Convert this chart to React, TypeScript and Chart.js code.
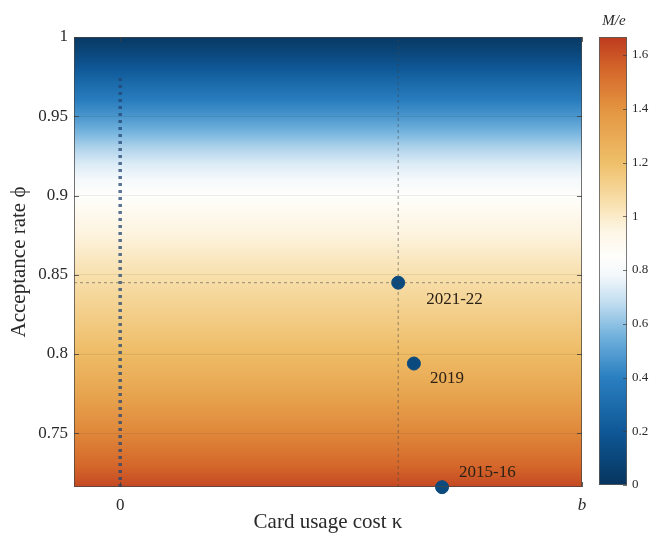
import React, { useEffect, useRef } from 'react';
import { Chart, registerables } from 'chart.js';

Chart.register(...registerables);

// ---- data ----
const phiGrid = [1.0, 0.99, 0.98, 0.97, 0.96, 0.95, 0.94, 0.93, 0.92, 0.91, 0.9, 0.89, 0.875, 0.85, 0.825, 0.8, 0.775, 0.75, 0.73, 0.7161];
const mOverE = [0.02, 0.1, 0.2, 0.3, 0.39, 0.47, 0.56, 0.65, 0.73, 0.79, 0.85, 0.9, 0.96, 1.05, 1.13, 1.22, 1.32, 1.44, 1.54, 1.63];

const pointLabels = ['2021-22', '2019', '2015-16'];
const pointKappa = [0.602, 0.636, 0.697];
const pointPhi = [0.845, 0.794, 0.716];

const dottedKappa = [0, 0];
const dottedPhi = [0.7161, 0.976];

const xTicks = [0, 1];
const xTickLabels = ['0', 'b'];
const yTicks = [0.75, 0.8, 0.85, 0.9, 0.95, 1];
const yTickLabels = ['0.75', '0.8', '0.85', '0.9', '0.95', '1'];
const cbTicks = [0, 0.2, 0.4, 0.6, 0.8, 1, 1.2, 1.4, 1.6];
const cbTickLabels = ['0', '0.2', '0.4', '0.6', '0.8', '1', '1.2', '1.4', '1.6'];

const xMin = -0.1;
const xMax = 1;
const yMin = 0.7161;
const yMax = 1;
const cbMin = 0;
const cbMax = 1.667;

// colormap stops (value of M/e -> colour)
const cmapValues = [0, 0.2, 0.4, 0.55, 0.68, 0.78, 0.85, 0.95, 1.05, 1.2, 1.4, 1.55, 1.667];
const cmapColors = ['#06355e', '#0f5897', '#2a7fc0', '#6fb0dc', '#c2def0', '#f4f8fb', '#fefefc', '#fdf5e3', '#f8e0ad', '#efbf69', '#e39440', '#d4652a', '#bd3a1e'];

// ---- styles ----
const FONT = '"Liberation Serif", "Times New Roman", serif';
const TEXT = '#2a2a2a';
const labelDx = [28, 16, 17];
const labelDy = [17, 15, -15];

function hexToRgb(h: string) {
  const n = parseInt(h.slice(1), 16);
  return [(n >> 16) & 255, (n >> 8) & 255, n & 255];
}
function cmap(v: number) {
  if (v <= cmapValues[0]) return cmapColors[0];
  const last = cmapValues.length - 1;
  if (v >= cmapValues[last]) return cmapColors[last];
  let i = 0;
  while (i < last - 1 && v > cmapValues[i + 1]) i++;
  const t = (v - cmapValues[i]) / (cmapValues[i + 1] - cmapValues[i]);
  const a = hexToRgb(cmapColors[i]);
  const b = hexToRgb(cmapColors[i + 1]);
  const c = a.map((av, k) => Math.round(av + (b[k] - av) * t));
  return `rgb(${c[0]},${c[1]},${c[2]})`;
}
const clamp01 = (t: number) => Math.max(0, Math.min(1, t));

const heatmapPlugin = {
  id: 'heatmap',
  beforeDraw(chart: any) {
    const { ctx, chartArea: a, scales } = chart;
    const y = scales.y;
    const g = ctx.createLinearGradient(0, a.top, 0, a.bottom);
    phiGrid.forEach((p, i) => {
      const off = clamp01((y.getPixelForValue(p) - a.top) / (a.bottom - a.top));
      g.addColorStop(off, cmap(mOverE[i]));
    });
    ctx.save();
    ctx.fillStyle = g;
    ctx.fillRect(a.left, a.top, a.right - a.left, a.bottom - a.top);
    ctx.restore();
  },
  afterDatasetsDraw(chart: any) {
    const { ctx, chartArea: a, scales } = chart;
    const x = scales.x;
    const y = scales.y;
    ctx.save();
    ctx.strokeStyle = 'rgba(70,70,70,0.75)';
    ctx.lineWidth = 1;
    ctx.strokeRect(a.left + 0.5, a.top + 0.5, a.right - a.left - 1, a.bottom - a.top - 1);
    ctx.strokeStyle = 'rgba(60,60,60,0.8)';
    ctx.beginPath();
    yTicks.forEach((v) => {
      const py = Math.round(y.getPixelForValue(v)) + 0.5;
      ctx.moveTo(a.left, py); ctx.lineTo(a.left + 5, py);
      ctx.moveTo(a.right, py); ctx.lineTo(a.right - 5, py);
    });
    xTicks.forEach((v) => {
      const px = Math.round(x.getPixelForValue(v)) + 0.5;
      ctx.moveTo(px, a.bottom); ctx.lineTo(px, a.bottom - 5);
      ctx.moveTo(px, a.top); ctx.lineTo(px, a.top + 5);
    });
    ctx.stroke();
    ctx.fillStyle = '#2b2116';
    ctx.font = `17px ${FONT}`;
    ctx.textAlign = 'left';
    ctx.textBaseline = 'middle';
    pointLabels.forEach((lab, i) => {
      const px = x.getPixelForValue(pointKappa[i]);
      const py = y.getPixelForValue(pointPhi[i]);
      ctx.fillText(lab, px + labelDx[i], py + labelDy[i]);
    });
    ctx.restore();
  },
};

const colorbarPlugin = {
  id: 'colorbar',
  beforeDraw(chart: any) {
    const { ctx, chartArea: a, scales } = chart;
    const y = scales.y;
    const g = ctx.createLinearGradient(0, a.top, 0, a.bottom);
    cmapValues.forEach((v, i) => {
      const off = clamp01((y.getPixelForValue(v) - a.top) / (a.bottom - a.top));
      g.addColorStop(off, cmapColors[i]);
    });
    ctx.save();
    ctx.fillStyle = g;
    ctx.fillRect(a.left, a.top, a.right - a.left, a.bottom - a.top);
    ctx.restore();
  },
  afterDraw(chart: any) {
    const { ctx, chartArea: a, scales } = chart;
    const y = scales.y;
    ctx.save();
    ctx.strokeStyle = 'rgba(90,90,90,0.8)';
    ctx.lineWidth = 1;
    ctx.strokeRect(a.left + 0.5, a.top + 0.5, a.right - a.left - 1, a.bottom - a.top - 1);
    ctx.strokeStyle = 'rgba(60,60,60,0.7)';
    ctx.beginPath();
    cbTicks.forEach((v) => {
      const py = Math.round(y.getPixelForValue(v)) + 0.5;
      ctx.moveTo(a.right, py); ctx.lineTo(a.right - 4, py);
    });
    ctx.stroke();
    ctx.fillStyle = TEXT;
    ctx.font = `italic 15px ${FONT}`;
    ctx.textAlign = 'center';
    ctx.textBaseline = 'middle';
    ctx.fillText('M/e', (a.left + a.right) / 2 + 1, 21);
    ctx.restore();
  },
};

export default function App() {
  const mainRef = useRef<HTMLCanvasElement>(null);
  const cbRef = useRef<HTMLCanvasElement>(null);

  useEffect(() => {
    const main = new Chart(mainRef.current as HTMLCanvasElement, {
      type: 'scatter',
      data: {
        datasets: [
          {
            type: 'line',
            data: dottedKappa.map((k, i) => ({ x: k, y: dottedPhi[i] })),
            borderColor: 'rgba(35,70,115,0.75)',
            borderWidth: 3.5,
            borderDash: [3, 4],
            pointRadius: 0,
            fill: false,
          } as any,
          {
            type: 'line',
            data: [{ x: pointKappa[0], y: yMin }, { x: pointKappa[0], y: yMax }],
            borderColor: 'rgba(70,70,70,0.55)',
            borderWidth: 1,
            borderDash: [3, 3],
            pointRadius: 0,
            fill: false,
          } as any,
          {
            type: 'line',
            data: [{ x: xMin, y: pointPhi[0] }, { x: xMax, y: pointPhi[0] }],
            borderColor: 'rgba(70,70,70,0.55)',
            borderWidth: 1,
            borderDash: [3, 3],
            pointRadius: 0,
            fill: false,
          } as any,
          {
            data: pointKappa.map((k, i) => ({ x: k, y: pointPhi[i] })),
            backgroundColor: '#0b4a7e',
            borderColor: '#0b4a7e',
            pointRadius: 6.5,
            clip: false,
          } as any,
        ],
      },
      options: {
        animation: false,
        responsive: false,
        layout: { padding: { top: 37, right: 8, left: 0, bottom: 0 } },
        plugins: { legend: { display: false }, tooltip: { enabled: false } },
        scales: {
          x: {
            type: 'linear',
            min: xMin,
            max: xMax,
            afterBuildTicks: (s: any) => { s.ticks = xTicks.map((v) => ({ value: v })); },
            afterFit: (s: any) => { s.height = 48; s.paddingLeft = 0; s.paddingRight = 0; },
            ticks: {
              callback: (_v: any, i: number) => xTickLabels[i],
              font: (c: any) => ({ family: FONT, size: 17, style: c.index === 1 ? 'italic' : 'normal' }),
              color: TEXT,
              padding: 8,
              maxRotation: 0,
            },
            grid: { display: false, drawTicks: false },
            border: { display: false },
            title: {
              display: true,
              text: 'Card usage cost κ',
              font: { family: FONT, size: 21 },
              color: TEXT,
              padding: { top: 0, bottom: 0 },
            },
          },
          y: {
            type: 'linear',
            min: yMin,
            max: yMax,
            afterBuildTicks: (s: any) => { s.ticks = yTicks.map((v) => ({ value: v })); },
            afterFit: (s: any) => { s.width = 74; s.paddingTop = 0; s.paddingBottom = 0; },
            ticks: {
              callback: (_v: any, i: number) => yTickLabels[i],
              font: { family: FONT, size: 17 },
              color: TEXT,
              padding: 6,
            },
            grid: { color: 'rgba(0,0,0,0.07)', drawTicks: false },
            border: { display: false },
            title: {
              display: true,
              text: 'Acceptance rate ϕ',
              font: { family: FONT, size: 21 },
              color: TEXT,
              padding: { top: 7, bottom: 0 },
            },
          },
        },
      } as any,
      plugins: [heatmapPlugin],
    });

    const cb = new Chart(cbRef.current as HTMLCanvasElement, {
      type: 'scatter',
      data: { datasets: [] },
      options: {
        animation: false,
        responsive: false,
        layout: { padding: { left: 9, top: 37, bottom: 50, right: 0 } },
        plugins: { legend: { display: false }, tooltip: { enabled: false } },
        scales: {
          x: { display: false, min: 0, max: 1 },
          y: {
            type: 'linear',
            position: 'right',
            min: cbMin,
            max: cbMax,
            afterBuildTicks: (s: any) => { s.ticks = cbTicks.map((v) => ({ value: v })); },
            afterFit: (s: any) => { s.width = 28; s.paddingTop = 0; s.paddingBottom = 0; },
            ticks: {
              callback: (_v: any, i: number) => cbTickLabels[i],
              font: { family: FONT, size: 13 },
              color: TEXT,
              padding: 5,
            },
            grid: { display: false, drawTicks: false },
            border: { display: false },
          },
        },
      } as any,
      plugins: [colorbarPlugin],
    });

    return () => {
      main.destroy();
      cb.destroy();
    };
  }, []);

  return (
    <div style={{ position: 'absolute', left: 0, top: 0, width: 655, height: 535, background: '#fff' }}>
      <canvas ref={mainRef} width={590} height={535} style={{ position: 'absolute', left: 0, top: 0 }} />
      <canvas ref={cbRef} width={65} height={535} style={{ position: 'absolute', left: 590, top: 0 }} />
    </div>
  );
}
